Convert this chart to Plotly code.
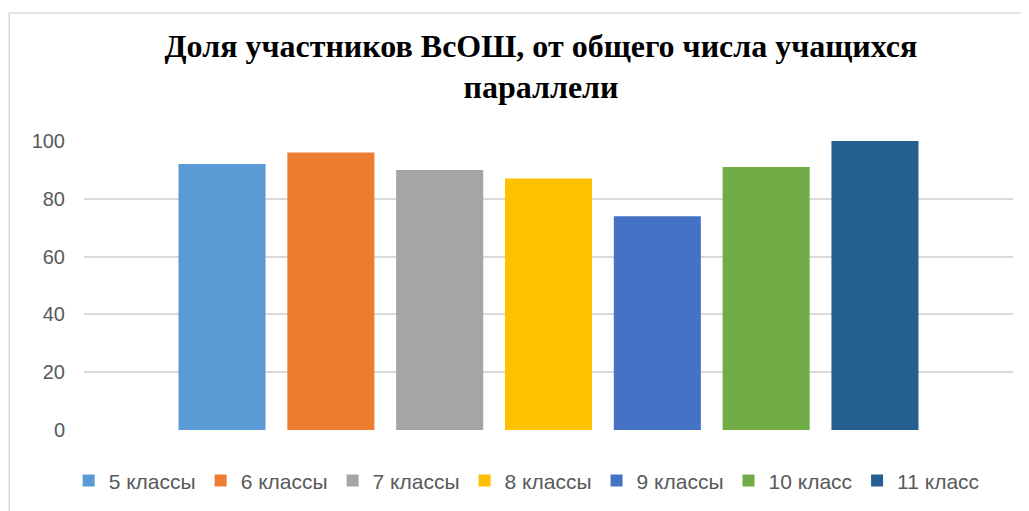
import plotly.graph_objects as go

# share of olympiad participants per grade, %
grades = ['5 классы', '6 классы', '7 классы', '8 классы', '9 классы', '10 класс', '11 класс']
shares = [92, 96, 90, 87, 74, 91, 100]
colors = ['#5B9BD5', '#ED7D31', '#A5A5A5', '#FFC000', '#4472C4', '#70AD47', '#255E91']
y_ticks = [0, 20, 40, 60, 80, 100]

fig = go.Figure()
for name, val, col in zip(grades, shares, colors):
    fig.add_trace(go.Bar(
        x=[0],
        y=[val],
        name=name,
        marker=dict(color=col, line=dict(width=0)),
        hoverinfo='y+name'
    ))

# page body adds an 8px offset, so the figure is a bit smaller than the window
fig.update_layout(
    width=1021,
    height=503,
    paper_bgcolor='white',
    plot_bgcolor='white',
    barmode='group',
    bargap=0.18,
    bargroupgap=0.2,
    margin=dict(l=76, r=16, t=133, b=81, autoexpand=False),
    title=dict(
        text='<b>Доля участников ВсОШ, от общего числа учащихся<br>параллели</b>',
        font=dict(family='Liberation Serif', size=32, color='black'),
        x=0.522, xanchor='center',
        y=0.903, yanchor='middle',
    ),
    xaxis=dict(
        range=[-0.5, 0.5],
        showticklabels=False,
        showgrid=False,
        zeroline=False,
        fixedrange=True,
    ),
    yaxis=dict(
        range=[0, 100],
        tickvals=y_ticks,
        tickfont=dict(family='Liberation Sans', size=20, color='#595959'),
        ticklabelstandoff=18,
        showgrid=True,
        gridcolor='#D9D9D9',
        gridwidth=1.5,
        zeroline=False,
        showline=False,
        automargin=False,
    ),
    legend=dict(
        orientation='h',
        x=0.508, xanchor='center', xref='container',
        y=0.06, yanchor='middle', yref='container',
        font=dict(family='Liberation Sans', size=21, color='#595959'),
        itemwidth=30,
        itemclick=False,
    ),
    showlegend=True,
)

# light frame around the chart area
fig.add_shape(
    type='rect', xref='paper', yref='paper',
    x0=-0.0805, x1=1.03, y0=-0.35, y1=1.443,
    line=dict(color='#D9D9D9', width=1.5),
    fillcolor='rgba(0,0,0,0)', layer='below'
)

fig.write_html("out.html")
